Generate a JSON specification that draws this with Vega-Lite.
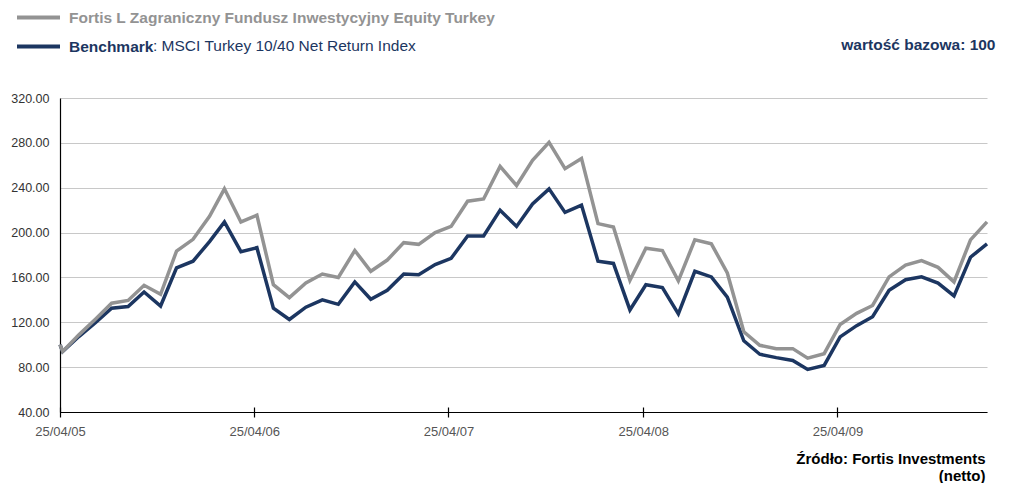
{
  "$schema": "https://vega.github.io/schema/vega-lite/v6.json",
  "width": 927,
  "height": 314,
  "autosize": {"type": "none"},
  "padding": {"left": 60, "top": 98, "right": 27, "bottom": 71},
  "background": "white",
  "config": {"view": {"stroke": null}, "font": "Liberation Sans"},
  "datasets": {
    "bench": [
      {"date": "2005-04-25", "series": "Benchmark", "value": 100},
      {"date": "2005-04-30", "series": "Benchmark", "value": 94},
      {"date": "2005-05-31", "series": "Benchmark", "value": 107.5},
      {"date": "2005-06-30", "series": "Benchmark", "value": 119.5},
      {"date": "2005-07-31", "series": "Benchmark", "value": 132.5},
      {"date": "2005-08-31", "series": "Benchmark", "value": 134},
      {"date": "2005-09-30", "series": "Benchmark", "value": 147},
      {"date": "2005-10-31", "series": "Benchmark", "value": 134.5},
      {"date": "2005-11-30", "series": "Benchmark", "value": 168.5},
      {"date": "2005-12-31", "series": "Benchmark", "value": 174.5},
      {"date": "2006-01-31", "series": "Benchmark", "value": 192},
      {"date": "2006-02-28", "series": "Benchmark", "value": 209.5},
      {"date": "2006-03-31", "series": "Benchmark", "value": 183},
      {"date": "2006-04-30", "series": "Benchmark", "value": 186.5},
      {"date": "2006-05-31", "series": "Benchmark", "value": 132.5},
      {"date": "2006-06-30", "series": "Benchmark", "value": 122.5},
      {"date": "2006-07-31", "series": "Benchmark", "value": 133.5},
      {"date": "2006-08-31", "series": "Benchmark", "value": 140},
      {"date": "2006-09-30", "series": "Benchmark", "value": 136},
      {"date": "2006-10-31", "series": "Benchmark", "value": 156},
      {"date": "2006-11-30", "series": "Benchmark", "value": 140.5},
      {"date": "2006-12-31", "series": "Benchmark", "value": 148.5},
      {"date": "2007-01-31", "series": "Benchmark", "value": 163},
      {"date": "2007-02-28", "series": "Benchmark", "value": 162.5},
      {"date": "2007-03-31", "series": "Benchmark", "value": 171.5},
      {"date": "2007-04-30", "series": "Benchmark", "value": 177},
      {"date": "2007-05-31", "series": "Benchmark", "value": 197},
      {"date": "2007-06-30", "series": "Benchmark", "value": 197},
      {"date": "2007-07-31", "series": "Benchmark", "value": 220},
      {"date": "2007-08-31", "series": "Benchmark", "value": 205.5},
      {"date": "2007-09-30", "series": "Benchmark", "value": 225.5},
      {"date": "2007-10-31", "series": "Benchmark", "value": 239},
      {"date": "2007-11-30", "series": "Benchmark", "value": 218},
      {"date": "2007-12-31", "series": "Benchmark", "value": 224.5},
      {"date": "2008-01-31", "series": "Benchmark", "value": 174.5},
      {"date": "2008-02-29", "series": "Benchmark", "value": 172.5},
      {"date": "2008-03-31", "series": "Benchmark", "value": 131},
      {"date": "2008-04-30", "series": "Benchmark", "value": 153.5},
      {"date": "2008-05-31", "series": "Benchmark", "value": 151},
      {"date": "2008-06-30", "series": "Benchmark", "value": 127.5},
      {"date": "2008-07-31", "series": "Benchmark", "value": 165.5},
      {"date": "2008-08-31", "series": "Benchmark", "value": 160.5},
      {"date": "2008-09-30", "series": "Benchmark", "value": 142.5},
      {"date": "2008-10-31", "series": "Benchmark", "value": 103.5},
      {"date": "2008-11-30", "series": "Benchmark", "value": 91.5},
      {"date": "2008-12-31", "series": "Benchmark", "value": 88.5},
      {"date": "2009-01-31", "series": "Benchmark", "value": 86},
      {"date": "2009-02-28", "series": "Benchmark", "value": 78},
      {"date": "2009-03-31", "series": "Benchmark", "value": 81.5},
      {"date": "2009-04-30", "series": "Benchmark", "value": 107},
      {"date": "2009-05-31", "series": "Benchmark", "value": 117},
      {"date": "2009-06-30", "series": "Benchmark", "value": 125},
      {"date": "2009-07-31", "series": "Benchmark", "value": 148.5},
      {"date": "2009-08-31", "series": "Benchmark", "value": 158},
      {"date": "2009-09-30", "series": "Benchmark", "value": 160.5},
      {"date": "2009-10-31", "series": "Benchmark", "value": 155},
      {"date": "2009-11-30", "series": "Benchmark", "value": 143.5},
      {"date": "2009-12-31", "series": "Benchmark", "value": 178},
      {"date": "2010-01-31", "series": "Benchmark", "value": 190}
    ],
    "fund": [
      {"date": "2005-04-25", "series": "Fortis L Zagraniczny Fundusz Inwestycyjny Equity Turkey", "value": 100},
      {"date": "2005-04-30", "series": "Fortis L Zagraniczny Fundusz Inwestycyjny Equity Turkey", "value": 94},
      {"date": "2005-05-31", "series": "Fortis L Zagraniczny Fundusz Inwestycyjny Equity Turkey", "value": 109},
      {"date": "2005-06-30", "series": "Fortis L Zagraniczny Fundusz Inwestycyjny Equity Turkey", "value": 122.5},
      {"date": "2005-07-31", "series": "Fortis L Zagraniczny Fundusz Inwestycyjny Equity Turkey", "value": 137},
      {"date": "2005-08-31", "series": "Fortis L Zagraniczny Fundusz Inwestycyjny Equity Turkey", "value": 139.5},
      {"date": "2005-09-30", "series": "Fortis L Zagraniczny Fundusz Inwestycyjny Equity Turkey", "value": 153},
      {"date": "2005-10-31", "series": "Fortis L Zagraniczny Fundusz Inwestycyjny Equity Turkey", "value": 145},
      {"date": "2005-11-30", "series": "Fortis L Zagraniczny Fundusz Inwestycyjny Equity Turkey", "value": 183.5},
      {"date": "2005-12-31", "series": "Fortis L Zagraniczny Fundusz Inwestycyjny Equity Turkey", "value": 194},
      {"date": "2006-01-31", "series": "Fortis L Zagraniczny Fundusz Inwestycyjny Equity Turkey", "value": 214.5},
      {"date": "2006-02-28", "series": "Fortis L Zagraniczny Fundusz Inwestycyjny Equity Turkey", "value": 239},
      {"date": "2006-03-31", "series": "Fortis L Zagraniczny Fundusz Inwestycyjny Equity Turkey", "value": 209.5},
      {"date": "2006-04-30", "series": "Fortis L Zagraniczny Fundusz Inwestycyjny Equity Turkey", "value": 215.5},
      {"date": "2006-05-31", "series": "Fortis L Zagraniczny Fundusz Inwestycyjny Equity Turkey", "value": 153.5},
      {"date": "2006-06-30", "series": "Fortis L Zagraniczny Fundusz Inwestycyjny Equity Turkey", "value": 142},
      {"date": "2006-07-31", "series": "Fortis L Zagraniczny Fundusz Inwestycyjny Equity Turkey", "value": 155},
      {"date": "2006-08-31", "series": "Fortis L Zagraniczny Fundusz Inwestycyjny Equity Turkey", "value": 163},
      {"date": "2006-09-30", "series": "Fortis L Zagraniczny Fundusz Inwestycyjny Equity Turkey", "value": 160},
      {"date": "2006-10-31", "series": "Fortis L Zagraniczny Fundusz Inwestycyjny Equity Turkey", "value": 184},
      {"date": "2006-11-30", "series": "Fortis L Zagraniczny Fundusz Inwestycyjny Equity Turkey", "value": 165.5},
      {"date": "2006-12-31", "series": "Fortis L Zagraniczny Fundusz Inwestycyjny Equity Turkey", "value": 175.5},
      {"date": "2007-01-31", "series": "Fortis L Zagraniczny Fundusz Inwestycyjny Equity Turkey", "value": 191},
      {"date": "2007-02-28", "series": "Fortis L Zagraniczny Fundusz Inwestycyjny Equity Turkey", "value": 189.5},
      {"date": "2007-03-31", "series": "Fortis L Zagraniczny Fundusz Inwestycyjny Equity Turkey", "value": 200},
      {"date": "2007-04-30", "series": "Fortis L Zagraniczny Fundusz Inwestycyjny Equity Turkey", "value": 205.5},
      {"date": "2007-05-31", "series": "Fortis L Zagraniczny Fundusz Inwestycyjny Equity Turkey", "value": 228},
      {"date": "2007-06-30", "series": "Fortis L Zagraniczny Fundusz Inwestycyjny Equity Turkey", "value": 230},
      {"date": "2007-07-31", "series": "Fortis L Zagraniczny Fundusz Inwestycyjny Equity Turkey", "value": 259},
      {"date": "2007-08-31", "series": "Fortis L Zagraniczny Fundusz Inwestycyjny Equity Turkey", "value": 242},
      {"date": "2007-09-30", "series": "Fortis L Zagraniczny Fundusz Inwestycyjny Equity Turkey", "value": 264.5},
      {"date": "2007-10-31", "series": "Fortis L Zagraniczny Fundusz Inwestycyjny Equity Turkey", "value": 280.5},
      {"date": "2007-11-30", "series": "Fortis L Zagraniczny Fundusz Inwestycyjny Equity Turkey", "value": 257},
      {"date": "2007-12-31", "series": "Fortis L Zagraniczny Fundusz Inwestycyjny Equity Turkey", "value": 266},
      {"date": "2008-01-31", "series": "Fortis L Zagraniczny Fundusz Inwestycyjny Equity Turkey", "value": 208},
      {"date": "2008-02-29", "series": "Fortis L Zagraniczny Fundusz Inwestycyjny Equity Turkey", "value": 205},
      {"date": "2008-03-31", "series": "Fortis L Zagraniczny Fundusz Inwestycyjny Equity Turkey", "value": 157.5},
      {"date": "2008-04-30", "series": "Fortis L Zagraniczny Fundusz Inwestycyjny Equity Turkey", "value": 186},
      {"date": "2008-05-31", "series": "Fortis L Zagraniczny Fundusz Inwestycyjny Equity Turkey", "value": 184},
      {"date": "2008-06-30", "series": "Fortis L Zagraniczny Fundusz Inwestycyjny Equity Turkey", "value": 157},
      {"date": "2008-07-31", "series": "Fortis L Zagraniczny Fundusz Inwestycyjny Equity Turkey", "value": 193.5},
      {"date": "2008-08-31", "series": "Fortis L Zagraniczny Fundusz Inwestycyjny Equity Turkey", "value": 190},
      {"date": "2008-09-30", "series": "Fortis L Zagraniczny Fundusz Inwestycyjny Equity Turkey", "value": 164},
      {"date": "2008-10-31", "series": "Fortis L Zagraniczny Fundusz Inwestycyjny Equity Turkey", "value": 111.5},
      {"date": "2008-11-30", "series": "Fortis L Zagraniczny Fundusz Inwestycyjny Equity Turkey", "value": 99.5},
      {"date": "2008-12-31", "series": "Fortis L Zagraniczny Fundusz Inwestycyjny Equity Turkey", "value": 96.5},
      {"date": "2009-01-31", "series": "Fortis L Zagraniczny Fundusz Inwestycyjny Equity Turkey", "value": 96.5},
      {"date": "2009-02-28", "series": "Fortis L Zagraniczny Fundusz Inwestycyjny Equity Turkey", "value": 88},
      {"date": "2009-03-31", "series": "Fortis L Zagraniczny Fundusz Inwestycyjny Equity Turkey", "value": 92},
      {"date": "2009-04-30", "series": "Fortis L Zagraniczny Fundusz Inwestycyjny Equity Turkey", "value": 118},
      {"date": "2009-05-31", "series": "Fortis L Zagraniczny Fundusz Inwestycyjny Equity Turkey", "value": 128},
      {"date": "2009-06-30", "series": "Fortis L Zagraniczny Fundusz Inwestycyjny Equity Turkey", "value": 135},
      {"date": "2009-07-31", "series": "Fortis L Zagraniczny Fundusz Inwestycyjny Equity Turkey", "value": 160.5},
      {"date": "2009-08-31", "series": "Fortis L Zagraniczny Fundusz Inwestycyjny Equity Turkey", "value": 171},
      {"date": "2009-09-30", "series": "Fortis L Zagraniczny Fundusz Inwestycyjny Equity Turkey", "value": 175},
      {"date": "2009-10-31", "series": "Fortis L Zagraniczny Fundusz Inwestycyjny Equity Turkey", "value": 169},
      {"date": "2009-11-30", "series": "Fortis L Zagraniczny Fundusz Inwestycyjny Equity Turkey", "value": 156},
      {"date": "2009-12-31", "series": "Fortis L Zagraniczny Fundusz Inwestycyjny Equity Turkey", "value": 193.5},
      {"date": "2010-01-31", "series": "Fortis L Zagraniczny Fundusz Inwestycyjny Equity Turkey", "value": 209.5}
    ]
  },
  "layer": [
    {
      "data": {"name": "bench"},
      "mark": {"type": "line", "strokeWidth": 3.5},
      "encoding": {
        "x": {
          "field": "date", "type": "temporal",
          "scale": {"type": "utc", "domain": [{"year": 2005, "month": 4, "date": 25, "utc": true}, {"year": 2010, "month": 1, "date": 31, "utc": true}]},
          "axis": {
            "orient": "bottom",
            "values": [
              {"year": 2005, "month": 4, "date": 25, "utc": true},
              {"year": 2006, "month": 4, "date": 25, "utc": true},
              {"year": 2007, "month": 4, "date": 25, "utc": true},
              {"year": 2008, "month": 4, "date": 25, "utc": true},
              {"year": 2009, "month": 4, "date": 25, "utc": true}
            ],
            "labelExpr": "utcFormat(datum.value, '%d/%m/%y')",
            "grid": false, "ticks": false,
            "domainColor": "#000000", "domainWidth": 1.2,
            "labelFontSize": 13, "labelColor": "#555555", "labelPadding": 13,
            "labelFlush": false, "labelOverlap": false,
            "title": ["Źródło: Fortis Investments", "(netto)"],
            "titleX": 925, "titleY": 51, "titleAlign": "right", "titleAnchor": "end",
            "titleBaseline": "alphabetic", "titleFontSize": 15, "titleFontWeight": "bold",
            "titleColor": "#000000", "titleLineHeight": 17
          }
        },
        "y": {
          "field": "value", "type": "quantitative",
          "scale": {"domain": [40, 320], "nice": false, "zero": false},
          "axis": {
            "values": [40, 80, 120, 160, 200, 240, 280, 320],
            "format": ".2f", "grid": true, "gridColor": "#c8c8c8", "gridWidth": 1,
            "domainColor": "#000000", "domainWidth": 1.2, "ticks": false,
            "labelPadding": 11, "labelFontSize": 12.5, "labelColor": "#333333",
            "title": "wartość bazowa: 100", "titleAngle": 0, "titleX": 935, "titleY": -49,
            "titleAlign": "right", "titleBaseline": "alphabetic", "titleFontSize": 15.5,
            "titleFontWeight": "bold", "titleColor": "#1c3661"
          }
        },
        "color": {
          "field": "series", "type": "nominal",
          "scale": {"range": ["#1c3661"]},
          "legend": {
            "orient": "none", "legendX": -45, "legendY": -75, "padding": 0,
            "symbolType": "stroke", "symbolSize": 1849, "symbolStrokeWidth": 4,
            "labelFontSize": 15.5, "labelFontWeight": "bold", "labelColor": "#1c3661",
            "labelOffset": 7, "labelLimit": 0,
            "title": ": MSCI Turkey 10/40 Net Return Index", "titleOrient": "right",
            "titleFontSize": 15.5, "titleFontWeight": "normal", "titleColor": "#1c3661",
            "titlePadding": 0, "titleBaseline": "top", "titleLimit": 0
          }
        }
      }
    },
    {
      "data": {"name": "fund"},
      "mark": {"type": "line", "strokeWidth": 3.5},
      "encoding": {
        "x": {
          "field": "date", "type": "temporal",
          "axis": {
            "orient": "bottom",
            "values": [
              {"year": 2005, "month": 4, "date": 25, "utc": true},
              {"year": 2006, "month": 4, "date": 25, "utc": true},
              {"year": 2007, "month": 4, "date": 25, "utc": true},
              {"year": 2008, "month": 4, "date": 25, "utc": true},
              {"year": 2009, "month": 4, "date": 25, "utc": true}
            ],
            "offset": -5, "domain": false, "labels": false, "grid": false,
            "ticks": true, "tickSize": 10, "tickColor": "#000000", "tickWidth": 1.2,
            "title": null
          }
        },
        "y": {
          "field": "value", "type": "quantitative",
          "axis": {
            "values": [40, 80, 120, 160, 200, 240, 280, 320],
            "format": ".2f", "grid": true, "gridColor": "#c8c8c8", "gridWidth": 1,
            "domainColor": "#000000", "domainWidth": 1.2, "ticks": false,
            "labelPadding": 11, "labelFontSize": 12.5, "labelColor": "#333333",
            "title": "wartość bazowa: 100", "titleAngle": 0, "titleX": 935, "titleY": -49,
            "titleAlign": "right", "titleBaseline": "alphabetic", "titleFontSize": 15.5,
            "titleFontWeight": "bold", "titleColor": "#1c3661"
          }
        },
        "color": {
          "field": "series", "type": "nominal",
          "scale": {"range": ["#939393"]},
          "legend": {
            "orient": "none", "legendX": -45, "legendY": -104, "padding": 0,
            "symbolType": "stroke", "symbolSize": 1849, "symbolStrokeWidth": 4,
            "labelFontSize": 15.5, "labelFontWeight": "bold", "labelColor": "#939393",
            "labelOffset": 7, "labelLimit": 0, "title": null
          }
        }
      }
    }
  ],
  "resolve": {
    "scale": {"color": "independent"},
    "legend": {"color": "independent"},
    "axis": {"x": "independent"}
  }
}
